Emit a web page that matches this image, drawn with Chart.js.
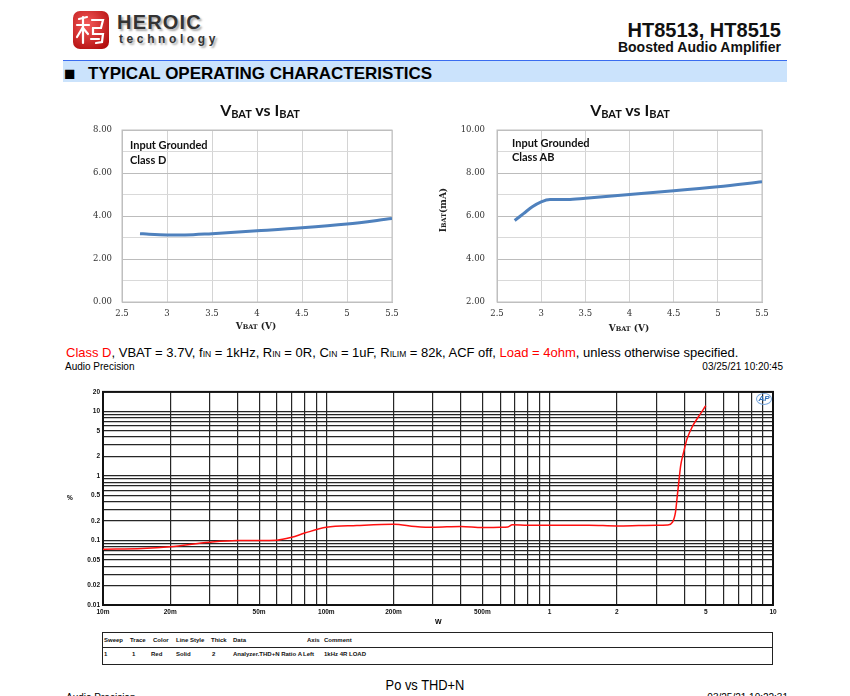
<!DOCTYPE html>
<html><head><meta charset="utf-8">
<script src="https://cdn.jsdelivr.net/npm/chart.js@4.4.1/dist/chart.umd.min.js"></script>
<style>
html,body{margin:0;padding:0;background:#fff;width:850px;height:696px;overflow:hidden;position:relative;font-family:"Liberation Sans",Arial,sans-serif;color:#000;}
.abs{position:absolute;white-space:nowrap;line-height:1;}
canvas{position:absolute;}
.ttl{font-family:Lato,"Noto Sans",sans-serif;font-weight:700;font-size:16px;text-align:center;width:200px;color:#111;}
.ttl .s{font-size:11px;position:relative;top:2px;}
.ann{font-family:Lato,"Noto Sans",sans-serif;font-weight:700;font-size:11px;color:#111;}
.axl{font-family:"DejaVu Serif","Liberation Serif",serif;font-weight:700;font-size:9px;color:#222;text-align:center;width:80px;}
.axl .s{font-size:6.5px;}
.sc{font-size:8.5px;}
.tb{font-size:6px;font-weight:700;color:#111;}
</style></head><body>

<svg class="abs" style="left:72px;top:10px" width="38" height="40" viewBox="0 0 38 40">
 <defs><radialGradient id="lg" cx="40%" cy="35%" r="75%"><stop offset="0" stop-color="#f45a5a"/><stop offset="1" stop-color="#b30e0e"/></radialGradient></defs>
 <rect x="1" y="1" width="36" height="38" rx="7" fill="url(#lg)"/>
 <g stroke="#fff" stroke-width="2.2" fill="none" stroke-linecap="round">
  <path d="M7 9 L15 7"/><path d="M5 15 L17 15"/><path d="M11 7 L11 33"/><path d="M11 17 L5 27"/><path d="M11 18 L16 24"/>
  <path d="M20 10 L31 10 L29 18 L21 18"/><path d="M21 18 L21 24 L31 24 L30 32 L24 33"/><path d="M19 29 L27 29"/>
 </g>
</svg>
<div class="abs" style="left:117px;top:12px;font-size:20px;font-weight:700;letter-spacing:1.2px;color:#333;text-shadow:2px 2px 2px #aaa;">HEROIC</div>
<div class="abs" style="left:119px;top:33.4px;font-size:12px;font-weight:700;letter-spacing:3.6px;color:#333;text-shadow:2px 2px 2px #aaa;">technology</div>

<div class="abs" style="right:69px;top:19.7px;font-size:20px;font-weight:700;color:#111;">HT8513, HT8515</div>
<div class="abs" style="right:69px;top:40.2px;font-size:14px;font-weight:700;color:#111;">Boosted Audio Amplifier</div>

<div class="abs" style="left:63px;top:60px;width:724px;height:1px;background:#3a6df0;"></div>
<div class="abs" style="left:63px;top:61px;width:724px;height:21px;background:#cbe3fc;"></div>
<div class="abs" style="left:64px;top:63.5px;font-size:19px;font-weight:700;">■</div>
<div class="abs" style="left:88px;top:65.3px;font-size:17px;font-weight:700;">TYPICAL OPERATING CHARACTERISTICS</div>

<canvas id="c1" width="330" height="245" style="left:80px;top:95px"></canvas>
<canvas id="c2" width="350" height="245" style="left:430px;top:95px"></canvas>
<canvas id="c3" width="730" height="245" style="left:60px;top:385px"></canvas>

<div class="abs ttl" style="left:160px;top:101.5px">V<span class="s">BAT</span> vs I<span class="s">BAT</span></div>
<div class="abs ttl" style="left:530px;top:101.5px">V<span class="s">BAT</span> vs I<span class="s">BAT</span></div>
<div class="abs ann" style="left:130px;top:139.2px">Input Grounded</div>
<div class="abs ann" style="left:130px;top:154.2px">Class D</div>
<div class="abs ann" style="left:512px;top:136.5px">Input Grounded</div>
<div class="abs ann" style="left:512px;top:151.2px">Class AB</div>
<div class="abs axl" style="left:216px;top:322.4px">V<span class="s">BAT</span> (V)</div>
<div class="abs axl" style="left:589px;top:324.4px">V<span class="s">BAT</span> (V)</div>
<div class="abs axl" style="left:443px;top:209.5px;width:auto;transform:translate(-50%,-50%) rotate(-90deg);">I<span class="s">BAT</span>(mA)</div>

<div class="abs" style="left:66px;top:346px;font-size:13px;"><span style="color:#f00">Class D</span>, VBAT = 3.7V, f<span class="sc">IN</span> = 1kHz, R<span class="sc">IN</span> = 0R, C<span class="sc">IN</span> = 1uF, R<span class="sc">ILIM</span> = 82k, ACF off, <span style="color:#f00">Load = 4ohm</span>, unless otherwise specified.</div>
<div class="abs" style="left:65px;top:361.5px;font-size:10px;">Audio Precision</div>
<div class="abs" style="right:67px;top:361.5px;font-size:10px;">03/25/21 10:20:45</div>

<div class="abs" style="left:67px;top:495px;font-size:6.5px;font-weight:700;">%</div>
<div class="abs" style="left:435px;top:618px;font-size:7px;font-weight:700;">W</div>
<div class="abs" style="left:756px;top:393px;width:14px;height:10px;border:1px solid #7aa8de;border-radius:50%;color:#2a6ebb;font-size:8px;font-style:italic;font-weight:700;text-align:center;line-height:10px;">AP</div>

<div class="abs" style="left:102px;top:632px;width:669px;height:31px;border:1.5px solid #222;"></div>
<div class="abs" style="left:103px;top:647px;width:670px;height:1px;background:#222;"></div>
<div class="abs tb" style="left:104px;top:637px">Sweep</div>
<div class="abs tb" style="left:130px;top:637px">Trace</div>
<div class="abs tb" style="left:153px;top:637px">Color</div>
<div class="abs tb" style="left:176px;top:637px">Line Style</div>
<div class="abs tb" style="left:211px;top:637px">Thick</div>
<div class="abs tb" style="left:233px;top:637px">Data</div>
<div class="abs tb" style="left:307px;top:637px">Axis</div>
<div class="abs tb" style="left:324px;top:637px">Comment</div>
<div class="abs tb" style="left:104px;top:651px">1</div>
<div class="abs tb" style="left:132px;top:651px">1</div>
<div class="abs tb" style="left:151px;top:651px">Red</div>
<div class="abs tb" style="left:176px;top:651px">Solid</div>
<div class="abs tb" style="left:212px;top:651px">2</div>
<div class="abs tb" style="left:233px;top:651px">Analyzer.THD+N Ratio A</div>
<div class="abs tb" style="left:303px;top:651px">Left</div>
<div class="abs tb" style="left:324px;top:651px">1kHz 4R LOAD</div>

<div class="abs" style="left:325px;width:200px;text-align:center;top:678px;font-size:14px;transform:scaleX(0.92);font-family:'Liberation Sans Narrow','Liberation Sans',Arial,sans-serif;">Po vs THD+N</div>
<div class="abs" style="left:66px;top:693px;font-size:10px;">Audio Precision</div>
<div class="abs" style="right:62px;top:693px;font-size:10px;">03/25/21 10:22:31</div>

<script>
// ---- data ----
const vbatClassD  = [2.7, 2.8, 3.0, 3.2, 3.5, 4.0, 4.5, 5.0, 5.5];
const ibatClassD  = [3.18, 3.15, 3.12, 3.12, 3.18, 3.31, 3.45, 3.63, 3.88];
const vbatClassAB = [2.7, 2.8, 2.9, 3.0, 3.1, 3.3, 3.5, 4.0, 4.5, 5.0, 5.5];
const ibatClassAB = [5.79, 6.11, 6.43, 6.66, 6.77, 6.77, 6.83, 7.0, 7.17, 7.36, 7.59];
const poutW  = [0.01, 0.015, 0.02, 0.03, 0.04, 0.05, 0.06, 0.07, 0.08, 0.1, 0.137, 0.2, 0.25, 0.3, 0.4, 0.5, 0.6, 0.65, 0.68, 0.8, 1.0, 1.5, 2.0, 2.5, 3.0, 3.37, 3.55, 3.66, 3.73, 3.80, 3.86, 3.98, 4.12, 4.37, 4.62, 5.0];
const thdnPct = [0.073, 0.075, 0.08, 0.094, 0.1, 0.1, 0.101, 0.112, 0.13, 0.16, 0.17, 0.178, 0.165, 0.16, 0.165, 0.158, 0.16, 0.162, 0.175, 0.172, 0.172, 0.172, 0.168, 0.17, 0.172, 0.174, 0.193, 0.275, 0.5, 0.9, 1.44, 2.33, 3.72, 5.95, 8.1, 12.2];
const powerTickValues = [0.01, 0.02, 0.05, 0.1, 0.2, 0.5, 1, 2, 5, 10];
const powerTickLabels = ['10m', '20m', '50m', '100m', '200m', '500m', '1', '2', '5', '10'];
const thdTickValues = [0.01, 0.02, 0.05, 0.1, 0.2, 0.5, 1, 2, 5, 10, 20];
const thdTickLabels = ['0.01', '0.02', '0.05', '0.1', '0.2', '0.5', '1', '2', '5', '10', '20'];

// ---- helpers ----
const frame = {
  id: 'frame',
  beforeDatasetsDraw(chart, args, opts) {
    const {ctx, chartArea: a} = chart;
    ctx.save();
    ctx.strokeStyle = opts.color; ctx.lineWidth = opts.width;
    ctx.strokeRect(a.left, a.top, a.right - a.left, a.bottom - a.top);
    ctx.restore();
  }
};
function logGrid(min, max) {
  const out = [];
  for (let e = Math.floor(Math.log10(min)); e <= Math.ceil(Math.log10(max)); e++) {
    for (let m = 1; m <= 9; m++) {
      const v = +(m * Math.pow(10, e)).toPrecision(6);
      if (v >= min * 0.9999 && v <= max * 1.0001) out.push(v);
    }
  }
  return out;
}
function labelFor(v, vals, labels) {
  const i = vals.findIndex(t => Math.abs(Math.log10(t) - Math.log10(v)) < 1e-6);
  return i >= 0 ? labels[i] : '';
}
const serifTick = {family: 'DejaVu Serif', size: 8.5};

function vbatChart(id, xs, ys, yMin, yMax, yWidth, yPad) {
  return new Chart(document.getElementById(id), {
    type: 'line',
    data: {datasets: [{
      data: xs.map((x, i) => ({x: x, y: ys[i]})),
      borderColor: '#4f81bd', borderWidth: 3, pointRadius: 0,
      cubicInterpolationMode: 'monotone', fill: false
    }]},
    options: {
      responsive: false, animation: false, devicePixelRatio: 1,
      layout: {padding: {top: 35, right: 18, left: 0, bottom: 0}},
      plugins: {legend: {display: false}, tooltip: {enabled: false}, frame: {color: '#bfbfbf', width: 1}},
      scales: {
        x: {type: 'linear', min: 2.5, max: 5.5,
            ticks: {stepSize: 0.5, padding: 7, color: '#333', font: serifTick, maxRotation: 0, autoSkip: false,
                    callback: v => String(v)},
            grid: {color: '#d4d4d4', drawTicks: false}, border: {color: '#bfbfbf'},
            afterFit: s => { s.height = 38; }},
        y: {type: 'linear', min: yMin, max: yMax,
            ticks: {stepSize: 1, padding: yPad, color: '#333', font: serifTick, autoSkip: false,
                    callback: v => (v % 2 === 0 ? v.toFixed(2) : '')},
            grid: {color: c => (c.tick && c.tick.value % 2 === 0 ? '#bcbcbc' : '#d9d9d9'), drawTicks: false},
            border: {color: '#bfbfbf'},
            afterFit: s => { s.width = yWidth; }}
      }
    },
    plugins: [frame]
  });
}
vbatChart('c1', vbatClassD, ibatClassD, 0, 8, 42, 10);
vbatChart('c2', vbatClassAB, ibatClassAB, 2, 10, 67, 12);

const apTick = {family: 'Liberation Sans', size: 6.5, weight: 'bold'};
new Chart(document.getElementById('c3'), {
  type: 'line',
  data: {datasets: [{
    data: poutW.map((x, i) => ({x: x, y: thdnPct[i]})),
    borderColor: '#ff1010', borderWidth: 1.5, pointRadius: 0,
    cubicInterpolationMode: 'monotone', fill: false
  }]},
  options: {
    responsive: false, animation: false, devicePixelRatio: 1,
    layout: {padding: {top: 6, right: 17, left: 0, bottom: 0}},
    plugins: {legend: {display: false}, tooltip: {enabled: false}, frame: {color: '#111', width: 2}},
    scales: {
      x: {type: 'logarithmic', min: 0.01, max: 10,
          afterBuildTicks: s => { s.ticks = logGrid(0.01, 10).map(v => ({value: v})); },
          ticks: {autoSkip: false, maxRotation: 0, padding: 3, color: '#111', font: apTick,
                  callback: v => labelFor(v, powerTickValues, powerTickLabels)},
          grid: {color: '#262626', lineWidth: 1.2, drawTicks: false}, border: {display: false},
          afterFit: s => { s.height = 25; }},
      y: {type: 'logarithmic', min: 0.01, max: 20,
          afterBuildTicks: s => { s.ticks = logGrid(0.01, 20).map(v => ({value: v})); },
          ticks: {autoSkip: false, padding: 3, color: '#111', font: apTick,
                  callback: v => labelFor(v, thdTickValues, thdTickLabels)},
          grid: {color: '#262626', lineWidth: 1.2, drawTicks: false}, border: {display: false},
          afterFit: s => { s.width = 43; }}
      }
  },
  plugins: [frame]
});
</script>
</body></html>
